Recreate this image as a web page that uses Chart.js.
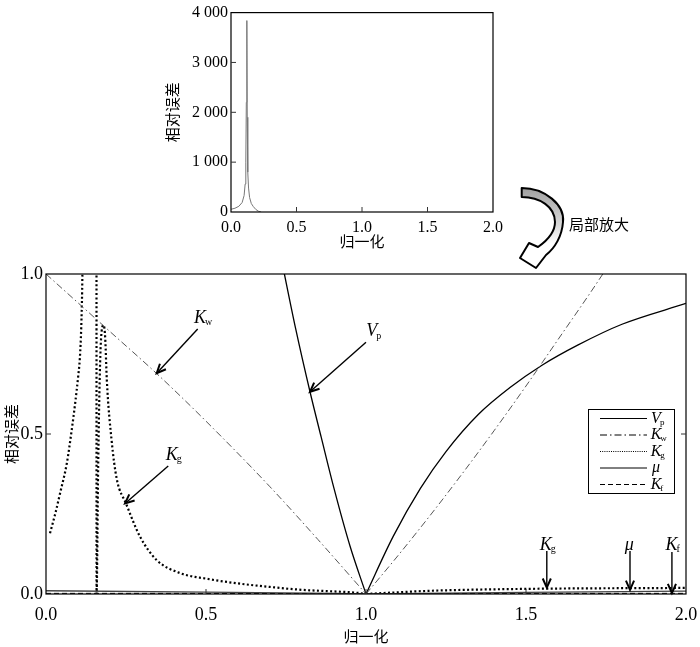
<!DOCTYPE html>
<html lang="zh">
<head>
<meta charset="UTF-8">
<title>相对误差 - 归一化</title>
<script src="https://cdn.jsdelivr.net/npm/chart.js"></script>
<style>
  html, body { margin: 0; padding: 0; background: #fff; }
  #wrap { position: relative; width: 700px; height: 647px; overflow: hidden; }
  #mainChart { position: absolute; left: 0; top: 255px; }
  #topChart { position: absolute; left: 0; top: 0; z-index: 2; }
</style>
</head>
<body>
<div id="wrap">
  <canvas id="mainChart" width="700" height="392"></canvas>
  <canvas id="topChart" width="700" height="272"></canvas>
</div>
<script>
// ---- data: small inset (full range) ----
const insetX = [0, 0.03, 0.06, 0.085, 0.1, 0.108, 0.113, 0.117, 0.121, 0.124, 0.128, 0.134, 0.142, 0.155, 0.17, 0.19, 0.21, 0.23];
const insetY = [55, 75, 115, 190, 330, 560, 1000, 2200, 3840, 1900, 800, 480, 290, 170, 110, 50, 15, 0];
const insetXTicks = [0, 0.5, 1, 1.5, 2];
const insetXLabels = ['0.0', '0.5', '1.0', '1.5', '2.0'];
const insetYTicks = [0, 1000, 2000, 3000, 4000];
const insetYLabels = ['0', '1 000', '2 000', '3 000', '4 000'];

// ---- data: zoomed chart ----
const vpLeftX = [0.73, 0.745, 0.78, 0.825, 0.86, 0.9, 0.95, 1.0];
const vpLeftY = [1.075, 1.0, 0.83, 0.632, 0.49, 0.33, 0.15, 0.0];
const vpRightX = [1.0, 1.085, 1.17, 1.25, 1.35, 1.45, 1.55, 1.66, 1.8, 2.0];
const vpRightY = [0.0, 0.18, 0.33, 0.445, 0.56, 0.645, 0.715, 0.777, 0.843, 0.908];

const kwLeftX = [0, 0.1, 0.2, 0.35, 0.5, 0.7, 0.85, 1.0];
const kwLeftY = [1.0, 0.91, 0.82, 0.685, 0.54, 0.335, 0.17, 0.0];
const kwRightX = [1.0, 1.1, 1.2, 1.3, 1.4, 1.5, 1.6, 1.7, 1.76];
const kwRightY = [0.0, 0.12, 0.245, 0.375, 0.51, 0.65, 0.795, 0.94, 1.03];

const kgLeftX = [0.0125, 0.03, 0.044, 0.065, 0.08, 0.091, 0.1, 0.106, 0.11, 0.113, 0.115];
const kgLeftY = [0.19, 0.255, 0.315, 0.408, 0.51, 0.595, 0.675, 0.74, 0.83, 0.95, 1.1];
const kgMidX = [0.1578, 0.158, 0.163, 0.169, 0.175, 0.18, 0.185, 0.19, 0.205, 0.221, 0.25, 0.294, 0.346, 0.42, 0.5, 0.6, 0.7, 0.8, 0.9, 0.97, 1.0];
const kgMidY = [1.05, 0.0, 0.4, 0.72, 0.83, 0.84, 0.8, 0.67, 0.48, 0.36, 0.283, 0.179, 0.106, 0.065, 0.048, 0.033, 0.022, 0.013, 0.008, 0.004, 0.0];
const kgRightX = [1.0, 1.2, 1.5, 2.0];
const kgRightY = [0.0, 0.01, 0.016, 0.019];

const muX = [0, 0.5, 0.9, 1.0, 1.5, 2.0];
const muY = [0.01, 0.006, 0.002, 0.0, 0.005, 0.009];

const kfX = [0, 0.5, 1.0, 1.5, 2.0];
const kfY = [0.002, 0.002, 0.001, 0.002, 0.002];

const mainXTicks = [0, 0.5, 1, 1.5, 2];
const mainXLabels = ['0.0', '0.5', '1.0', '1.5', '2.0'];
const mainYTicks = [0, 0.5, 1];
const mainYLabels = ['0.0', '0.5', '1.0'];

const serif = "'Liberation Serif', 'Times New Roman', serif";
const cjk = "'Noto Sans CJK SC', 'Noto Sans CJK JP', sans-serif";

function pts(xs, ys) {
    return xs.map((x, i) => ({ x: x, y: ys[i] }));
}

// line styles for each series (legend reuses them)
const styles = {
    vp: { color: '#000', width: 1.3, dash: [] },
    kw: { color: '#555', width: 1, dash: [7, 3, 1.5, 3] },
    kg: { color: '#000', width: 2.2, dash: [2, 2.4] },
    mu: { color: '#444', width: 1.4, dash: [] },
    kf: { color: '#000', width: 1, dash: [5, 3] }
};

function ds(xs, ys, st, smooth) {
    return {
        data: pts(xs, ys),
        borderColor: st.color,
        borderWidth: st.width,
        borderDash: st.dash,
        cubicInterpolationMode: smooth ? 'monotone' : 'default',
        tension: 0,
        pointRadius: 0,
        fill: false
    };
}

// frame + inward ticks
function framePlugin(opts) {
    return {
        id: 'frame',
        afterDraw(chart) {
            const c = chart.ctx, a = chart.chartArea;
            const xs = chart.scales.x, ys = chart.scales.y;
            c.save();
            c.strokeStyle = '#000';
            c.lineWidth = 1.2;
            c.strokeRect(a.left, a.top, a.right - a.left, a.bottom - a.top);
            c.lineWidth = 1;
            c.strokeStyle = '#333';
            c.beginPath();
            opts.xTicks.forEach(v => {
                const px = xs.getPixelForValue(v);
                c.moveTo(px, a.bottom); c.lineTo(px, a.bottom - 5);
            });
            opts.yTicks.forEach(v => {
                const py = ys.getPixelForValue(v);
                c.moveTo(a.left, py); c.lineTo(a.left + 5, py);
                if (opts.right) { c.moveTo(a.right, py); c.lineTo(a.right - 5, py); }
            });
            c.stroke();
            c.restore();
        }
    };
}

// italic symbol with small subscript, centred on the main letter
function drawSym(c, x, y, main, sub, size) {
    c.font = 'italic ' + size + 'px ' + serif;
    c.textAlign = 'center';
    c.textBaseline = 'middle';
    c.fillStyle = '#000';
    c.fillText(main, x, y);
    if (sub) {
        const w = c.measureText(main).width;
        c.font = Math.round(size * 0.55) + 'px ' + serif;
        c.textAlign = 'left';
        c.fillText(sub, x + w / 2 - 1, y + size * 0.25);
    }
}

function drawArrow(c, x1, y1, x2, y2) {
    const a = Math.atan2(y2 - y1, x2 - x1), h = 10, s = 0.42;
    c.beginPath();
    c.moveTo(x1, y1); c.lineTo(x2, y2);
    c.stroke();
    c.lineWidth = 2;
    c.beginPath();
    c.moveTo(x2 - h * Math.cos(a - s), y2 - h * Math.sin(a - s));
    c.lineTo(x2, y2);
    c.lineTo(x2 - h * Math.cos(a + s), y2 - h * Math.sin(a + s));
    c.stroke();
}

// arrows pointing at the curves (data units)
const notes = [
    { main: 'K', sub: 'w', lx: 0.481, ly: 0.8625, fx: 0.474, fy: 0.828, tx: 0.346, ty: 0.69 },
    { main: 'K', sub: 'g', lx: 0.393, ly: 0.434, fx: 0.382, fy: 0.40, tx: 0.247, ty: 0.283 },
    { main: 'V', sub: 'p', lx: 1.018, ly: 0.82, fx: 1.0, fy: 0.787, tx: 0.825, ty: 0.632 },
    { main: 'K', sub: 'g', lx: 1.562, ly: 0.153, fx: 1.565, fy: 0.134, tx: 1.565, ty: 0.02 },
    { main: 'μ', sub: '', lx: 1.823, ly: 0.153, fx: 1.825, fy: 0.134, tx: 1.825, ty: 0.013 },
    { main: 'K', sub: 'f', lx: 1.955, ly: 0.153, fx: 1.956, fy: 0.131, tx: 1.956, ty: 0.003 }
];

const notePlugin = {
    id: 'notes',
    afterDatasetsDraw(chart) {
        const c = chart.ctx, xs = chart.scales.x, ys = chart.scales.y;
        c.save();
        c.strokeStyle = '#000';
        notes.forEach(n => {
            c.lineWidth = 1.4;
            drawArrow(c, xs.getPixelForValue(n.fx), ys.getPixelForValue(n.fy),
                xs.getPixelForValue(n.tx), ys.getPixelForValue(n.ty));
            drawSym(c, xs.getPixelForValue(n.lx), ys.getPixelForValue(n.ly), n.main, n.sub, 18);
        });
        c.restore();
    }
};

const legendItems = [
    { key: 'vp', main: 'V', sub: 'p' },
    { key: 'kw', main: 'K', sub: 'w' },
    { key: 'kg', main: 'K', sub: 'g' },
    { key: 'mu', main: 'μ', sub: '' },
    { key: 'kf', main: 'K', sub: 'f' }
];

const legendPlugin = {
    id: 'boxLegend',
    afterDraw(chart) {
        const c = chart.ctx, a = chart.chartArea;
        const bx = a.right - 98, by = a.top + 135, bw = 86, bh = 84;
        c.save();
        c.fillStyle = '#fff';
        c.fillRect(bx, by, bw, bh);
        c.strokeStyle = '#000';
        c.lineWidth = 1;
        c.strokeRect(bx + 0.5, by + 0.5, bw, bh);
        legendItems.forEach((it, i) => {
            const st = styles[it.key];
            const y = by + 9.5 + i * 16.5;
            c.strokeStyle = '#000';
            c.lineWidth = 1;
            c.setLineDash(it.key === 'kg' ? [1, 1.2] : st.dash);
            c.beginPath();
            c.moveTo(bx + 12, y); c.lineTo(bx + 59, y);
            c.stroke();
            c.setLineDash([]);
            drawSym(c, bx + 68, y, it.main, it.sub, 16);
        });
        c.restore();
    }
};

// ---- zoomed chart ----
new Chart(document.getElementById('mainChart'), {
    type: 'line',
    data: {
        datasets: [
            ds(kwLeftX, kwLeftY, styles.kw, true),
            ds(kwRightX, kwRightY, styles.kw, true),
            ds(muX, muY, styles.mu, false),
            ds(kfX, kfY, styles.kf, false),
            ds(kgLeftX, kgLeftY, styles.kg, true),
            ds(kgMidX, kgMidY, styles.kg, true),
            ds(kgRightX, kgRightY, styles.kg, true),
            ds(vpLeftX, vpLeftY, styles.vp, true),
            ds(vpRightX, vpRightY, styles.vp, true)
        ]
    },
    options: {
        responsive: false,
        animation: false,
        layout: { padding: { left: 0, right: 14, top: 19, bottom: 0 } },
        plugins: { legend: { display: false }, tooltip: { enabled: false } },
        scales: {
            x: {
                type: 'linear', min: 0, max: 2,
                afterFit: s => { s.height = 53; },
                afterBuildTicks: s => { s.ticks = mainXTicks.map(v => ({ value: v })); },
                ticks: {
                    callback: v => mainXLabels[mainXTicks.indexOf(v)],
                    font: { family: serif, size: 18 }, color: '#000', padding: 2, maxRotation: 0
                },
                // tick marks hidden, but their 8px length still spaces the labels
                grid: { display: false },
                border: { display: false },
                title: {
                    display: true, text: '归一化', color: '#000',
                    font: { family: cjk, size: 15 }, padding: { top: 0, bottom: 2 }
                }
            },
            y: {
                type: 'linear', min: 0, max: 1,
                afterFit: s => { s.width = 46; },
                afterBuildTicks: s => { s.ticks = mainYTicks.map(v => ({ value: v })); },
                ticks: {
                    callback: v => mainYLabels[mainYTicks.indexOf(v)],
                    font: { family: serif, size: 18 }, color: '#000', padding: 3
                },
                grid: { display: false, drawTicks: false },
                border: { display: false },
                title: {
                    display: true, text: '相对误差', color: '#000',
                    font: { family: cjk, size: 15 }, padding: { top: 2, bottom: 0 }
                }
            }
        }
    },
    plugins: [framePlugin({ xTicks: [0.5, 1, 1.5], yTicks: [0.5], right: true }), notePlugin, legendPlugin]
});

// curved arrow + caption between the two charts
const bendPlugin = {
    id: 'bend',
    afterDraw(chart) {
        const c = chart.ctx;
        c.save();
        const p = new Path2D(
            'M 521.7 188 C 545 188 565 205 563 222 C 562 236 555 248 546 255 ' +
            'L 536 268 L 520 258 L 529 243 L 538 247 ' +
            'C 548 240 555 232 555 222 C 555 207 540 197 521.7 197 Z');
        const g = c.createLinearGradient(0, 188, 0, 262);
        g.addColorStop(0, '#a0a0a0');
        g.addColorStop(0.5, '#d8d8d8');
        g.addColorStop(0.75, '#ffffff');
        g.addColorStop(1, '#ffffff');
        c.fillStyle = g;
        c.fill(p);
        c.strokeStyle = '#000';
        c.lineWidth = 2;
        c.lineJoin = 'round';
        c.stroke(p);
        c.fillStyle = '#000';
        c.font = '15px ' + cjk;
        c.textAlign = 'center';
        c.textBaseline = 'middle';
        c.fillText('局部放大', 599, 224);
        c.restore();
    }
};

// ---- full-range inset ----
new Chart(document.getElementById('topChart'), {
    type: 'line',
    data: {
        datasets: [{
            data: pts(insetX, insetY),
            borderColor: '#777',
            borderWidth: 1,
            tension: 0,
            pointRadius: 0,
            fill: false
        }]
    },
    options: {
        responsive: false,
        animation: false,
        layout: { padding: { left: 160, right: 207, top: 6, bottom: 0 } },
        plugins: { legend: { display: false }, tooltip: { enabled: false } },
        scales: {
            x: {
                type: 'linear', min: 0, max: 2,
                afterFit: s => { s.height = 60; },
                afterBuildTicks: s => { s.ticks = insetXTicks.map(v => ({ value: v })); },
                ticks: {
                    callback: v => insetXLabels[insetXTicks.indexOf(v)],
                    font: { family: serif, size: 16 }, color: '#000', padding: 6, maxRotation: 0
                },
                grid: { display: false, drawTicks: false },
                border: { display: false },
                title: {
                    display: true, text: '归一化', color: '#000',
                    font: { family: cjk, size: 15 }, padding: { top: 0, bottom: 22 }
                }
            },
            y: {
                type: 'linear', min: 0, max: 4000,
                afterFit: s => { s.width = 71; },
                afterBuildTicks: s => { s.ticks = insetYTicks.map(v => ({ value: v })); },
                ticks: {
                    callback: v => insetYLabels[insetYTicks.indexOf(v)],
                    font: { family: serif, size: 16 }, color: '#000', padding: 3
                },
                grid: { display: false, drawTicks: false },
                border: { display: false },
                title: {
                    display: true, text: '相对误差', color: '#000',
                    font: { family: cjk, size: 15 }, padding: { top: 3, bottom: 0 }
                }
            }
        }
    },
    plugins: [framePlugin({ xTicks: [0.5, 1, 1.5], yTicks: [1000, 2000, 3000], right: false }), bendPlugin]
});
</script>
</body>
</html>
